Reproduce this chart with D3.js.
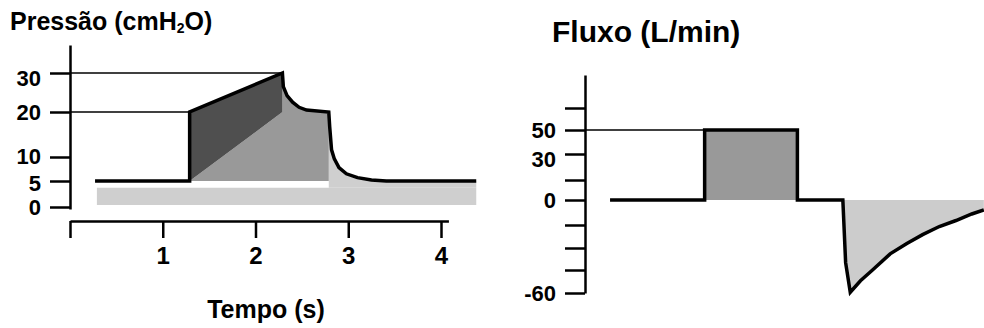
<!DOCTYPE html>
<html>
<head>
<meta charset="utf-8">
<script src="https://cdn.jsdelivr.net/npm/d3@7"></script>
<style>
  html, body { margin: 0; padding: 0; background: #fff; }
  svg { display: block; font-family: Arial, "Liberation Sans", sans-serif; font-weight: bold; }
</style>
</head>
<body>
<svg id="chart" width="984" height="328"></svg>
<script>
// ---------- data ----------
const timeTicks = [0, 1, 2, 3, 4];
const timeTickLabels = ["", "1", "2", "3", "4"];

const pressureTicks = [0, 5, 10, 20, 30];
const pressureTickLabels = ["0", "5", "10", "20", "30"];

const flowTicks = [-60, -45, -30, -15, 0, 15, 30, 50, 65];
const flowTickLabels = ["-60", "", "", "", "0", "", "30", "50", ""];

// pressure curve (time s, cmH2O)
const pressureTime  = [0.27, 1.29, 1.29, 2.29, 2.30, 2.34, 2.40, 2.47, 2.55, 2.79, 2.80, 2.82, 2.85, 2.90, 2.98, 3.10, 3.25, 3.41, 4.38];
const pressureValue = [5,    5,    20,   30,   26.5, 24.2, 22.5, 21.2, 20.5, 20,   16.7, 11.6, 9.6,  7.8,  6.5,  5.7,  5.2,  5,    5];

// inspiratory split (resistive / elastic) and PEEP band
const inspStartTime = 1.29, inspEndTime = 2.29, plateauEndTime = 2.79, curveEndTime = 4.38;
const peepValue = 5;
const bandTop = 3.7, bandBottom = 0.4;

// flow curve (time s, L/min)
const flowTime  = [0.27, 1.29, 1.29, 2.29, 2.29, 2.78, 2.81, 2.86, 2.97, 3.10, 3.29, 3.47, 3.64, 3.82, 4.00, 4.17, 4.30];
const flowValue = [0,    0,    50,   50,   0,    0,    -40,  -59.5,-52,  -45,  -34,  -27,  -21.3,-16,  -12.3,-8.4, -6];

// ---------- layout ----------
const svg = d3.select("#chart");

const xL = d3.scaleLinear().domain([0, 4]).range([70, 441]);
const xR = d3.scaleLinear().domain([0, 4]).range([585, 956]);
const yP = d3.scaleLinear().domain([-0.4, 0, 5, 10, 20, 30, 37]).range([209, 207, 181, 157, 112, 73, 45]);
const yF = d3.scaleLinear().domain([-60, -45, -30, -15, 0, 15, 30, 50, 65, 88])
                           .range([293, 270, 248, 225, 200, 180, 154, 130, 108, 75]);

const pts = pressureTime.map((t, i) => [t, pressureValue[i]]);
const fpts = flowTime.map((t, i) => [t, flowValue[i]]);

// ---------- left: pressure ----------
const gL = svg.append("g");

// light band (PEEP area)
gL.append("path")
  .attr("fill", "#cfcfcf")
  .attr("d", d3.area().x(d => xL(d)).y0(yP(bandBottom)).y1(yP(bandTop))([pressureTime[0] + 0.02, curveEndTime]));

// light area under expiratory curve
const expPts = pts.filter(p => p[0] >= plateauEndTime);
gL.append("path")
  .attr("fill", "#cfcfcf")
  .attr("d", d3.area().x(d => xL(d[0])).y0(yP(bandTop)).y1(d => yP(d[1]))(expPts));

// medium area (elastic)
const peakIdx = 3;
const plateauIdx = pressureTime.indexOf(plateauEndTime);
const medPoly = [[inspStartTime, peepValue], [inspEndTime, 20]]
  .concat(pts.slice(peakIdx, plateauIdx + 1))
  .concat([[plateauEndTime, peepValue]]);
gL.append("path")
  .attr("fill", "#999999")
  .attr("d", d3.line().x(d => xL(d[0])).y(d => yP(d[1]))(medPoly) + "Z");

// dark area (resistive)
const darkPoly = [[inspStartTime, peepValue], [inspStartTime, 20], [inspEndTime, 30], [inspEndTime, 20]];
gL.append("path")
  .attr("fill", "#4f4f4f")
  .attr("d", d3.line().x(d => xL(d[0])).y(d => yP(d[1]))(darkPoly) + "Z");

// reference lines
gL.append("line").attr("x1", xL(0)).attr("x2", xL(inspEndTime)).attr("y1", yP(30)).attr("y2", yP(30))
  .attr("stroke", "#000").attr("stroke-width", 1.6);
gL.append("line").attr("x1", xL(0)).attr("x2", xL(inspStartTime)).attr("y1", yP(20)).attr("y2", yP(20))
  .attr("stroke", "#000").attr("stroke-width", 1.6);

// pressure curve
gL.append("path")
  .attr("fill", "none").attr("stroke", "#000").attr("stroke-width", 3.5)
  .attr("d", d3.line().x(d => xL(d[0])).y(d => yP(d[1]))(pts));

// y axis
const labelDy = { 30: "0.55em", 10: "0.28em", 5: "0.42em" };
const axP = gL.append("g").attr("transform", `translate(${xL(0)},0)`)
  .call(d3.axisLeft(yP).tickValues(pressureTicks).tickSize(20).tickSizeOuter(0).tickPadding(9)
        .tickFormat((d, i) => pressureTickLabels[i]));
axP.selectAll("path, line").attr("stroke", "#000").attr("stroke-width", 2.5);
axP.selectAll("text").attr("font-size", 22).attr("font-weight", "bold").attr("fill", "#000")
   .attr("font-family", "Arial, 'Liberation Sans', sans-serif")
   .attr("dy", d => labelDy[d] || "0.35em");

// x axis
const xAxisScale = d3.scaleLinear().domain([0, 4.08]).range([xL(0), xL(4.08)]);
const axT = gL.append("g").attr("transform", "translate(0,221)")
  .call(d3.axisBottom(xAxisScale).tickValues(timeTicks).tickSize(17).tickSizeOuter(0).tickPadding(9)
        .tickFormat((d, i) => timeTickLabels[i]));
axT.selectAll("path, line").attr("stroke", "#000").attr("stroke-width", 2.5);
axT.selectAll("text").attr("font-size", 24).attr("font-weight", "bold").attr("fill", "#000")
   .attr("font-family", "Arial, 'Liberation Sans', sans-serif");

// titles
const tP = gL.append("text").attr("x", 10).attr("y", 30).attr("font-size", 25).attr("fill", "#000");
tP.append("tspan").text("Pressão (cmH");
tP.append("tspan").attr("font-size", 14).attr("dy", 3).text("2");
tP.append("tspan").attr("dy", -3).text("O)");

gL.append("text").attr("x", 266).attr("y", 318).attr("text-anchor", "middle")
  .attr("font-size", 25).attr("fill", "#000").text("Tempo (s)");

// ---------- right: flow ----------
const gR = svg.append("g");

// inspiratory flow fill
gR.append("path")
  .attr("fill", "#999999")
  .attr("d", d3.area().x(d => xR(d[0])).y0(yF(0)).y1(d => yF(d[1]))([[inspStartTime, 50], [inspEndTime, 50]]));

// expiratory flow fill
const expFlow = fpts.filter(p => p[0] >= 2.78);
gR.append("path")
  .attr("fill", "#cccccc")
  .attr("d", d3.area().x(d => xR(d[0])).y0(yF(0)).y1(d => yF(d[1]))(expFlow));

// reference line at 50
gR.append("line").attr("x1", xR(0)).attr("x2", xR(inspStartTime)).attr("y1", yF(50)).attr("y2", yF(50))
  .attr("stroke", "#000").attr("stroke-width", 1.6);

// flow curve
gR.append("path")
  .attr("fill", "none").attr("stroke", "#000").attr("stroke-width", 3.5)
  .attr("d", d3.line().x(d => xR(d[0])).y(d => yF(d[1]))(fpts));

// y axis
const axF = gR.append("g").attr("transform", `translate(${xR(0)},0)`)
  .call(d3.axisLeft(yF).tickValues(flowTicks).tickSize(20).tickSizeOuter(0).tickPadding(9)
        .tickFormat((d, i) => flowTickLabels[i]));
axF.selectAll("path, line").attr("stroke", "#000").attr("stroke-width", 2.5);
axF.selectAll("text").attr("font-size", 22).attr("font-weight", "bold").attr("fill", "#000")
   .attr("font-family", "Arial, 'Liberation Sans', sans-serif")
   .attr("dy", d => d === 30 ? "0.58em" : "0.35em");

gR.append("text").attr("x", 552).attr("y", 42).attr("font-size", 30).attr("fill", "#000")
  .text("Fluxo (L/min)");
</script>
</body>
</html>
